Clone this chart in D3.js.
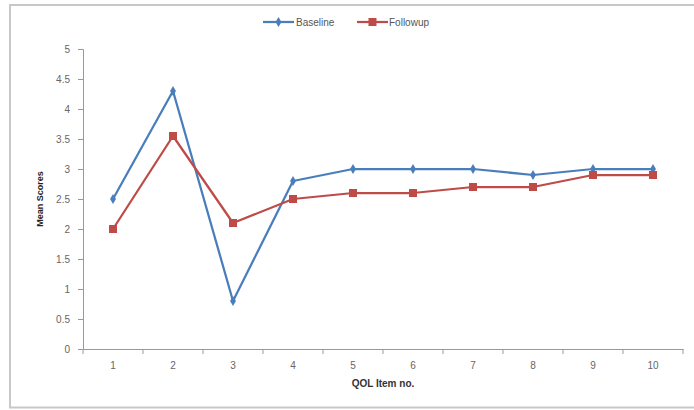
<!DOCTYPE html>
<html><head><meta charset="utf-8">
<script src="https://cdn.jsdelivr.net/npm/d3@7"></script>
<style>body{margin:0;background:#fff}svg{display:block}</style>
</head><body>
<svg id="c" width="694" height="410"></svg>
<script>
const categories = ["1","2","3","4","5","6","7","8","9","10"];
const baseline = [2.5, 4.3, 0.8, 2.8, 3.0, 3.0, 3.0, 2.9, 3.0, 3.0];
const followup = [2.0, 3.55, 2.1, 2.5, 2.6, 2.6, 2.7, 2.7, 2.9, 2.9];
const yTicks = [0, 0.5, 1, 1.5, 2, 2.5, 3, 3.5, 4, 4.5, 5];
const seriesNames = ["Baseline", "Followup"];
const colors = ["#4a7ebb", "#be4b48"];

const svg = d3.select("#c");
const m = {left: 83, right: 683, top: 49, bottom: 349};

// outer frame (right edge lies outside the picture)
svg.append("rect").attr("x", 10).attr("y", 5).attr("width", 700).attr("height", 402.5)
  .attr("fill", "none").attr("stroke", "#c8c8c8").attr("stroke-width", 2);

const x = d3.scaleBand().domain(categories).range([m.left, m.right]);
const y = d3.scaleLinear().domain([0, 5]).range([m.bottom, m.top]);

const font = "Liberation Sans, Arial, sans-serif";

// y axis
const ya = svg.append("g").attr("transform", `translate(${m.left},0)`)
  .call(d3.axisLeft(y).tickValues(yTicks).tickFormat(d => String(d)).tickSize(5).tickPadding(8));
ya.select(".domain").attr("stroke", "#999");
ya.selectAll(".tick line").attr("stroke", "#999");
ya.selectAll("text").attr("fill", "#666").style("font-family", font).style("font-size", "10px");

// x axis
const xa = svg.append("g").attr("transform", `translate(0,${m.bottom})`)
  .call(d3.axisBottom(x).tickSize(0).tickPadding(13));
xa.select(".domain").attr("stroke", "#999");
xa.selectAll("text").attr("fill", "#666").style("font-family", font).style("font-size", "10px");
// category boundary ticks
const bounds = categories.map(c => x(c)).concat([m.right]);
xa.selectAll(".btick").data(bounds).enter().append("line").attr("class", "btick")
  .attr("x1", d => d).attr("x2", d => d).attr("y1", 0).attr("y2", 5).attr("stroke", "#999");

// titles
svg.append("text").attr("x", (m.left + m.right) / 2).attr("y", 387).attr("text-anchor", "middle")
  .style("font-family", font).style("font-size", "10px").style("font-weight", "bold").attr("fill", "#333")
  .text("QOL Item no.");
svg.append("text").attr("transform", `translate(43,${(m.top + m.bottom) / 2}) rotate(-90)`)
  .attr("text-anchor", "middle").style("font-family", font).style("font-size", "9px")
  .style("font-weight", "bold").attr("fill", "#222").text("Mean Scores");

const cx = c => x(c) + x.bandwidth() / 2;
const line = d3.line().x((d, i) => cx(categories[i])).y(d => y(d));

[baseline, followup].forEach((data, s) => {
  svg.append("path").datum(data).attr("d", line).attr("fill", "none")
    .attr("stroke", colors[s]).attr("stroke-width", 2.25).attr("stroke-linejoin", "round");
});
// markers
svg.selectAll(".dm").data(baseline).enter().append("path").attr("class", "dm")
  .attr("d", d3.symbol(d3.symbolDiamond, 30)).attr("fill", colors[0])
  .attr("transform", (d, i) => `translate(${cx(categories[i])},${y(d)})`);
svg.selectAll(".sm").data(followup).enter().append("rect").attr("class", "sm")
  .attr("x", (d, i) => cx(categories[i]) - 4).attr("y", d => y(d) - 4)
  .attr("width", 8).attr("height", 8).attr("fill", colors[1]);

// legend
const leg = [{x: 263, tx: 296}, {x: 357, tx: 389}];
seriesNames.forEach((n, s) => {
  const g = svg.append("g");
  g.append("line").attr("x1", leg[s].x).attr("x2", leg[s].x + 31).attr("y1", 22).attr("y2", 22)
    .attr("stroke", colors[s]).attr("stroke-width", 2.25);
  if (s === 0) {
    g.append("path").attr("d", d3.symbol(d3.symbolDiamond, 30)).attr("fill", colors[0])
      .attr("transform", `translate(${leg[s].x + 15.5},22)`);
  } else {
    g.append("rect").attr("x", leg[s].x + 11.5).attr("y", 18).attr("width", 8).attr("height", 8).attr("fill", colors[1]);
  }
  g.append("text").attr("x", leg[s].tx).attr("y", 26).style("font-family", font).style("font-size", "10px")
    .attr("fill", "#555").text(n);
});
</script>
</body></html>
